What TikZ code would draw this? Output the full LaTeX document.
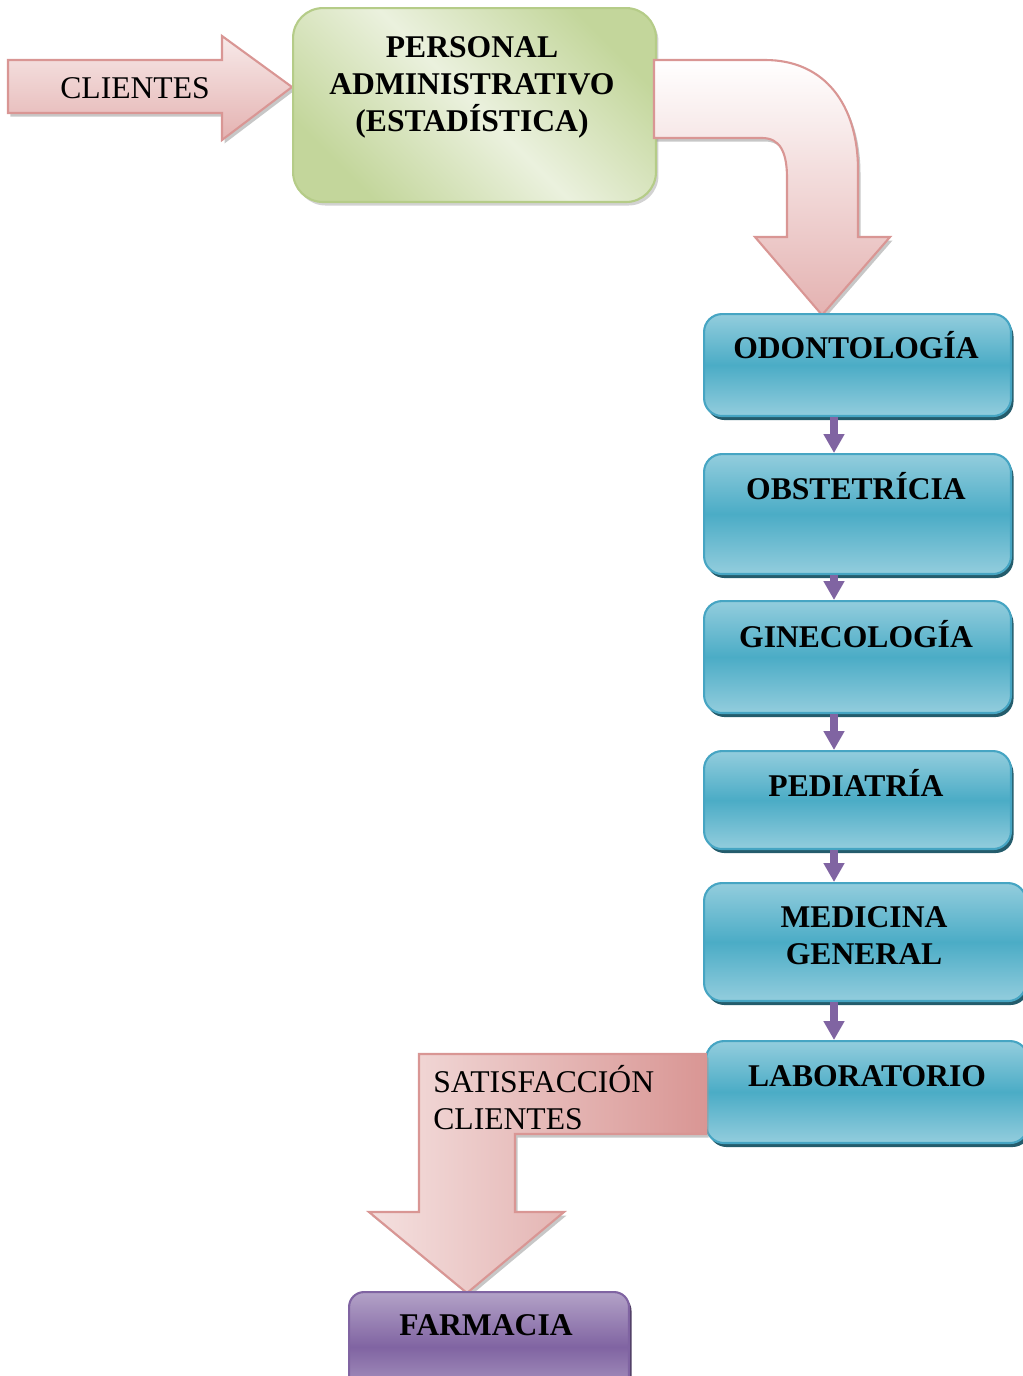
\documentclass[tikz,border=0pt]{standalone}
\usepackage{fontspec}
\setmainfont{Liberation Serif}
\usetikzlibrary{arrows.meta,shadows}
\definecolor{rosaborde}{RGB}{217,150,148}
\definecolor{rosaclaro}{RGB}{244,224,223}
\definecolor{rosa}{RGB}{228,178,177}
\definecolor{rosaosc}{RGB}{217,150,148}
\definecolor{verdeclaro}{RGB}{235,241,222}
\definecolor{verde}{RGB}{195,214,155}
\definecolor{verdeborde}{RGB}{181,204,136}
\definecolor{azulclaro}{RGB}{147,205,221}
\definecolor{azul}{RGB}{75,172,198}
\definecolor{azulborde}{RGB}{70,165,195}
\definecolor{azulsombra}{RGB}{36,92,108}
\definecolor{moradoclaro}{RGB}{179,162,199}
\definecolor{morado}{RGB}{128,100,162}
\tikzset{
  caja/.style={draw=azulborde, line width=1.2pt, rounded corners=0.36cm,
               top color=azulclaro, bottom color=azulclaro, middle color=azul,
               anchor=north west, inner sep=0pt,
               drop shadow={shadow xshift=0.05cm, shadow yshift=-0.08cm, fill=azulsombra, opacity=1}},
  rotulo/.style={font=\fontsize{18}{21}\selectfont\bfseries, align=center, inner sep=0pt},
  flechita/.style={-{Triangle[width=0.4cm, length=0.38cm]}, morado, line width=0.16cm},
  flechon/.style={draw=rosaborde, line width=1.2pt,
                  drop shadow={shadow xshift=0.05cm, shadow yshift=-0.07cm, fill=black!40, opacity=0.55}},
}

\begin{document}
\begin{tikzpicture}[x=0.02cm, y=-0.02cm]
    \useasboundingbox (0,0) rectangle (1022,1376);
    % entrada
    \path[flechon, top color=rosaclaro!70, bottom color=rosa]
      (8,60) -- (222,60) -- (222,36) -- (292,87) -- (222,140) -- (222,113) -- (8,113) -- cycle;
    \node[font=\fontsize{18}{21}\selectfont, inner sep=0pt, anchor=base] (t-clientes) at (135,98) {CLIENTES};
    % personal administrativo
    \node[draw=verdeborde, line width=1.2pt, rounded corners=0.6cm, anchor=north west,
          top color=verde, bottom color=verde, middle color=verdeclaro, shading angle=-45,
          minimum width=7.26cm, minimum height=3.88cm, inner sep=0pt,
          drop shadow={shadow xshift=0.05cm, shadow yshift=-0.07cm, fill=black!35, opacity=0.5}]
          (personal) at (292,7) {};
    \node[rotulo] (t-personal) at (472,87) {PERSONAL\\ADMINISTRATIVO\\(ESTADÍSTICA)};
    % flecha curva hacia odontologia
    \path[flechon, top color=white, bottom color=rosa]
      (654,60) -- (765,60) .. controls (825,60) and (858,105) .. (858,170) -- (858,237)
      -- (890,237) -- (822,315) -- (755,237) -- (787,237) -- (787,178)
      .. controls (787,152) and (780,138) .. (762,138) -- (654,138) -- cycle;
    % servicios
    \node[caja, minimum width=6.14cm, minimum height=2.04cm] (odonto) at (703,313) {};
    \node[caja, minimum width=6.14cm, minimum height=2.40cm] (obst) at (703,453) {};
    \node[caja, minimum width=6.14cm, minimum height=2.24cm] (gine) at (703,600) {};
    \node[caja, minimum width=6.14cm, minimum height=1.96cm] (pedia) at (703,750) {};
    \node[caja, minimum width=6.44cm, minimum height=2.36cm] (medic) at (703,882) {};
    \node[caja, minimum width=6.44cm, minimum height=2.04cm] (labo) at (705,1040) {};
    \node[rotulo, anchor=base] (t-odonto) at (856,358) {ODONTOLOGÍA};
    \node[rotulo, anchor=base] (t-obst) at (856,499) {OBSTETRÍCIA};
    \node[rotulo, anchor=base] (t-gine) at (856,647) {GINECOLOGÍA};
    \node[rotulo, anchor=base] (t-pedia) at (856,796) {PEDIATRÍA};
    \node[rotulo] (t-medic) at (864,936) {MEDICINA\\GENERAL};
    \node[rotulo, anchor=base] (t-labo) at (867,1086) {LABORATORIO};
    \coordinate (eje) at (834,0);
    \draw[flechita] (odonto.south -| eje) -- (obst.north -| eje);
    \draw[flechita] (obst.south -| eje) -- (gine.north -| eje);
    \draw[flechita] (gine.south -| eje) -- (pedia.north -| eje);
    \draw[flechita] (pedia.south -| eje) -- (medic.north -| eje);
    \draw[flechita] (medic.south -| eje) -- (labo.north -| eje);
    % salida hacia farmacia
    \path[flechon, left color=rosaclaro, right color=rosaosc]
      (706,1054) -- (419,1054) -- (419,1212) -- (369,1212) -- (467,1293)
      -- (564,1212) -- (515,1212) -- (515,1134) -- (706,1134) -- cycle;
    \node[font=\fontsize{18}{21}\selectfont, align=left, inner sep=0pt, anchor=west]
      (t-satisf) at (433,1098) {SATISFACCIÓN\\CLIENTES};
    \node[draw=morado, line width=1.2pt, rounded corners=0.3cm, anchor=north west,
          top color=moradoclaro, bottom color=moradoclaro, middle color=morado,
          minimum width=5.6cm, minimum height=2.2cm, inner sep=0pt,
          drop shadow={shadow xshift=0.05cm, shadow yshift=-0.07cm, fill=morado!60!black, opacity=1}]
          (farma) at (348,1291) {};
    \node[rotulo, anchor=base] (t-farma) at (486,1335) {FARMACIA};
  \end{tikzpicture}
\end{document}
